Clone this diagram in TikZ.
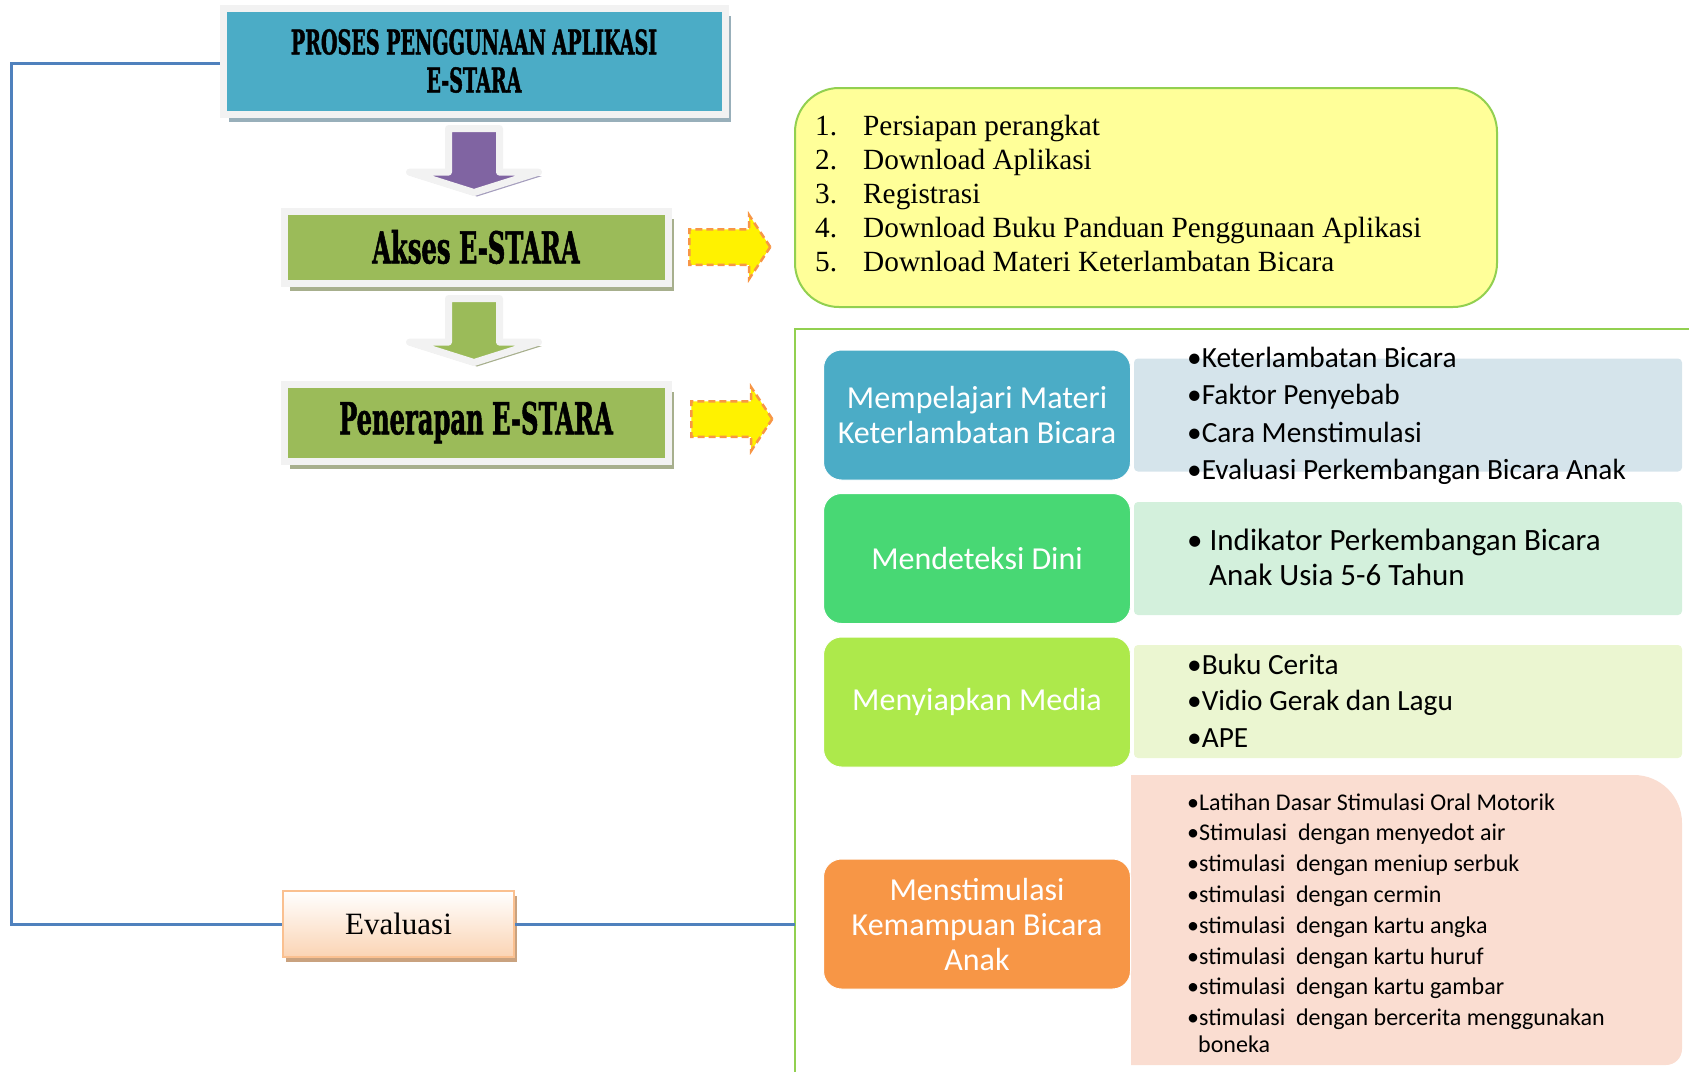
\documentclass[tikz,border=0pt]{standalone}
\usepackage{fontspec}
\setmainfont{Liberation Serif}
\newfontfamily\calibri{Carlito}
\newfontfamily\headfont[FakeStretch=0.56, BoldFeatures={FakeBold=1.2}]{DejaVu Serif}
\newfontfamily\stepfont[FakeStretch=0.55, BoldFeatures={FakeBold=1.2}]{DejaVu Serif}
\usetikzlibrary{positioning}
\usetikzlibrary{shapes.arrows}
\usetikzlibrary{shadows}
\definecolor{titleblue}{HTML}{4BACC6}
\definecolor{titleshade}{HTML}{98AFBA}
\definecolor{stepgreen}{HTML}{9BBB59}
\definecolor{stepshade}{HTML}{A7AF8D}
\definecolor{arrowpurple}{HTML}{8064A2}
\definecolor{purpleshade}{HTML}{A59EBD}
\definecolor{linkblue}{HTML}{4F81BD}
\definecolor{framegreen}{HTML}{92D050}
\definecolor{noteyellow}{HTML}{FFFF99}
\definecolor{hintorange}{HTML}{F79646}
\definecolor{deteksigreen}{HTML}{48D874}
\definecolor{mediagreen}{HTML}{ADE94B}
\definecolor{panelblue}{HTML}{D5E4EB}
\definecolor{panelgreen}{HTML}{D3F0DC}
\definecolor{panellime}{HTML}{EBF6D1}
\definecolor{panelpeach}{HTML}{FADDD1}
\definecolor{evalpeach}{HTML}{FBD4B4}
\definecolor{evalborder}{HTML}{FAC090}
\definecolor{evalshade}{HTML}{C9A27F}
\tikzset{
  boxframe/.style={draw=black!5, line width=7pt, inner sep=0pt, align=center},
  headbox/.style={boxframe, fill=titleblue, minimum width=502pt, minimum height=106pt,
    font={\headfont\bfseries\fontsize{34}{38}\selectfont},
    drop shadow={shadow xshift=6pt, shadow yshift=-8pt, fill=titleshade, opacity=1}},
  stepbox/.style={boxframe, fill=stepgreen, minimum width=384pt,
    font={\stepfont\bfseries\fontsize{44}{48}\selectfont},
    drop shadow={shadow xshift=6pt, shadow yshift=-8pt, fill=stepshade, opacity=1}},
  downarrow/.style={single arrow, shape border rotate=270, draw=black!5, line width=7pt,
    line join=round, inner sep=22pt, minimum width=0pt, minimum height=64pt,
    single arrow head extend=39pt, single arrow tip angle=145, anchor=tail},
  hintarrow/.style={single arrow, fill=yellow, draw=hintorange, line width=2.5pt,
    dash pattern=on 7pt off 4pt, inner sep=16.5pt, minimum width=0pt, minimum height=81pt,
    single arrow head extend=14pt, single arrow tip angle=113, anchor=tail},
  notebox/.style={draw=framegreen, line width=2pt, fill=noteyellow, rounded corners=44pt,
    minimum width=702pt, minimum height=219pt},
  stepitem/.style={anchor=base west, inner sep=0pt, font={\fontsize{29.3}{34}\selectfont}},
  topicbox/.style={rounded corners=18pt, draw=white, line width=1pt, text=white, align=center,
    minimum width=307pt, minimum height=130pt, font={\calibri\fontsize{32}{35}\selectfont}},
  panel/.style={rounded corners=4pt, minimum width=548pt, minimum height=113pt, inner sep=0pt},
  bulletitem/.style={anchor=base west, inner sep=0pt, font={\calibri\fontsize{29.3}{35}\selectfont}},
  smallitem/.style={bulletitem, font={\calibri\fontsize{24}{30}\selectfont}},
  evalbox/.style={draw=evalborder, line width=2pt, top color=white, bottom color=evalpeach,
    minimum width=231pt, minimum height=66pt, font={\fontsize{31}{35}\selectfont},
    drop shadow={shadow xshift=3pt, shadow yshift=-5pt, fill=evalshade, opacity=1}},
  linkline/.style={draw=linkblue, line width=3pt}
}
\begin{document}
\begin{tikzpicture}[x=1pt, y=-1pt]
\useasboundingbox (0,0) rectangle (1689,1072);

% left column
\node[headbox] (title) at (474,61) {PROSES PENGGUNAAN APLIKASI\\E-STARA};
\node[stepbox, minimum height=72pt] (akses) at (476,247) {Akses E-STARA};
\node[stepbox, minimum height=77pt] (terap) at (476,422.5) {Penerapan E-STARA};
\node[downarrow, fill=arrowpurple,
  drop shadow={shadow xshift=3pt, shadow yshift=-4pt, fill=purpleshade, opacity=1}] (arrA) at (474,125) {};
\node[downarrow, fill=stepgreen,
  drop shadow={shadow xshift=3pt, shadow yshift=-4pt, fill=stepshade, opacity=1}] (arrB) at (474,295) {};
\node[hintarrow] (hintA) at (688,247) {};
\node[hintarrow] (hintB) at (690,419) {};
\node[evalbox] (eval) at (398.5,924) {Evaluasi};

% steps of access
\node[notebox] (steps) at (1146,197.5) {};
\foreach \txt [count=\i] in {Persiapan perangkat, Download Aplikasi, Registrasi,
  Download Buku Panduan Penggunaan Aplikasi, Download Materi Keterlambatan Bicara}
  \node[stepitem] (step\i) at (815,{135+34*(\i-1)}) {\makebox[48pt][l]{\i.}\txt};

% application frame
\coordinate (frametop) at (795,329);
\draw[framegreen, line width=2pt] (1689,329) -- (frametop) -- (795,1072);

% panels
\node[panel, fill=panelblue] (panA) at (1408,415) {};
\node[panel, fill=panelgreen] (panB) at (1408,558.5) {};
\node[panel, fill=panellime] (panC) at (1408,701.5) {};
\fill[panelpeach] (1131,1065) -- (1131,775) [rounded corners=48pt] -- (1682,775)
  [rounded corners=16pt] -- (1682,1065) [sharp corners] -- cycle;

\node[topicbox, fill=titleblue] (materi) at (977,415) {Mempelajari Materi\\Keterlambatan Bicara};
\node[topicbox, fill=deteksigreen] (deteksi) at (977,558.5) {Mendeteksi Dini};
\node[topicbox, fill=mediagreen] (media) at (977,702) {Menyiapkan Media};
\node[topicbox, fill=hintorange] (stimul) at (977,924) {Menstimulasi\\Kemampuan Bicara\\Anak};

\foreach \txt [count=\i] in {Keterlambatan Bicara, Faktor Penyebab, Cara Menstimulasi,
  Evaluasi Perkembangan Bicara Anak}
  \node[bulletitem] (matA\i) at (1187,{367+37.5*(\i-1)}) {•\txt};
\node[bulletitem, font={\calibri\fontsize{31}{35}\selectfont}] (detA) at (1187,550)
  {• Indikator Perkembangan Bicara};
\node[bulletitem, font={\calibri\fontsize{31}{35}\selectfont}] (detB) at (1209,585)
  {Anak Usia 5-6 Tahun};
\foreach \txt [count=\i] in {Buku Cerita, Vidio Gerak dan Lagu, APE}
  \node[bulletitem] (medA\i) at (1187,{674+36.5*(\i-1)}) {•\txt};
\foreach \txt [count=\i] in {Latihan Dasar Stimulasi Oral Motorik,
  Stimulasi~ dengan menyedot air, stimulasi~ dengan meniup serbuk,
  stimulasi~ dengan cermin, stimulasi~ dengan kartu angka,
  stimulasi~ dengan kartu huruf, stimulasi~ dengan kartu gambar,
  stimulasi~ dengan bercerita menggunakan}
  \node[smallitem] (stiA\i) at (1187,{810+30.8*(\i-1)}) {•\txt};
\node[smallitem] (stiB) at (1198,1052) {boneka};

% loop back
\coordinate (leftrail) at (11.5,500);
\draw[linkline] ([yshift=-2.5pt]title.west) -- ([yshift=-2.5pt]title.west -| leftrail) |- (eval.west);
\draw[linkline] (eval.east) -- (eval.east -| frametop);
\end{tikzpicture}
\end{document}
